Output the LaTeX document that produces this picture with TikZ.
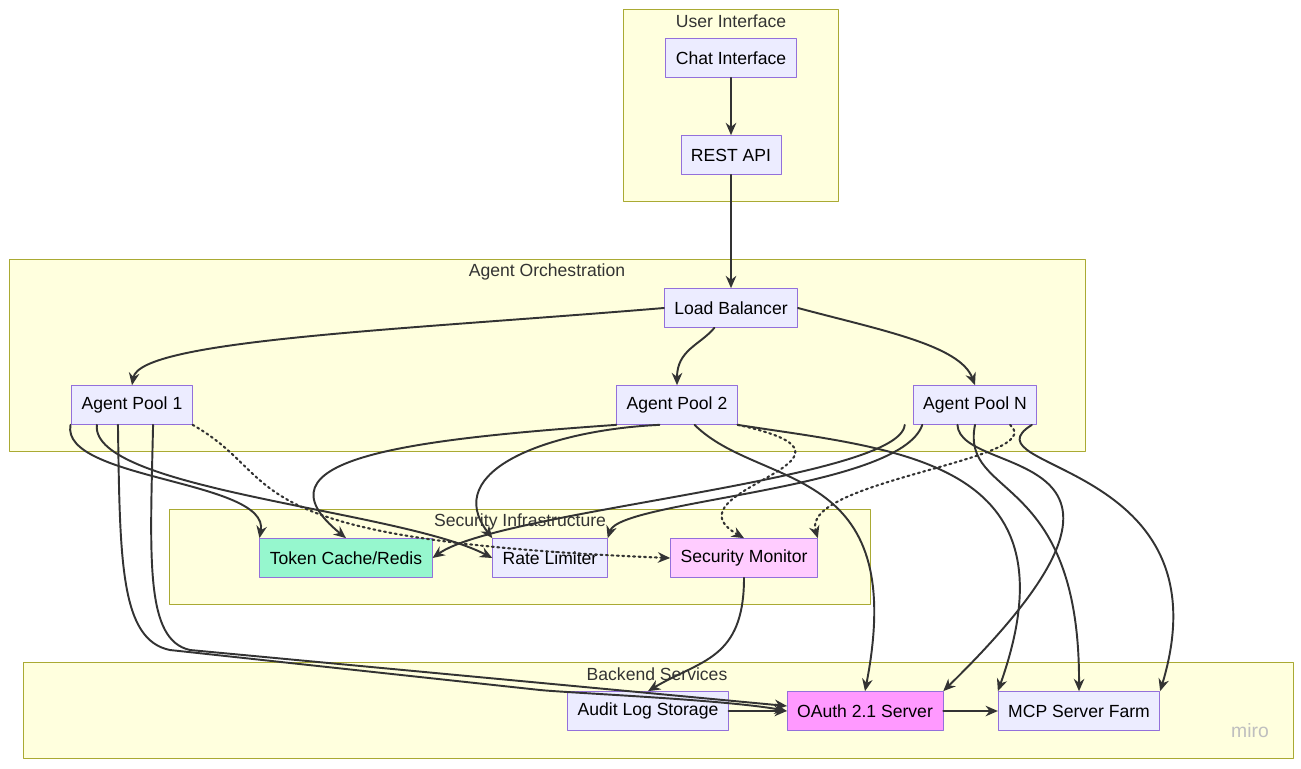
\documentclass[tikz,border=0pt]{standalone}
\usepackage{fontspec}
\setmainfont{Liberation Sans}
\usetikzlibrary{arrows.meta}
\definecolor{boxfill}{HTML}{ECECFF}
\definecolor{boxline}{HTML}{9370DB}
\definecolor{grpfill}{HTML}{FFFFDE}
\definecolor{grpline}{HTML}{AAAA33}
\definecolor{redisfill}{HTML}{96F7CE}
\definecolor{monfill}{HTML}{FFCCFF}
\definecolor{oauthfill}{HTML}{FF99FF}
\tikzset{
  box/.style={draw=boxline,fill=boxfill,minimum height=0.78cm,inner xsep=0.2cm,font=\fontsize{10}{12}\selectfont},
  grp/.style={draw=grpline,fill=grpfill},
  grplabel/.style={font=\fontsize{10}{12}\selectfont,text=black!80},
  link/.style={-{Stealth[length=7pt,width=6pt]},line width=1.1pt,draw=black!80},
  dlink/.style={link,dotted,line width=1.2pt}
}
\begin{document}
\begin{tikzpicture}[x=0.02cm,y=-0.02cm,line cap=round,line join=round]
\useasboundingbox (0,0) rectangle (1301,768);
% clusters
\draw[grp] (623,9) rectangle (838,201);
\node[grplabel] at (731,21) {User Interface};
\draw[grp] (9,259) rectangle (1085,451);
\node[grplabel] at (547,272) {Agent Orchestration};
\draw[grp] (169,509) rectangle (870,604);
\draw[grp] (23,662) rectangle (1293,758);
% nodes
\node[box] (chat) at (731,58) {Chat Interface};
\node[box] (rest) at (731,155) {REST API};
\node[box] (lb) at (731,308) {Load Balancer};
\node[box] (ap1) at (132,405) {Agent Pool 1};
\node[box] (ap2) at (677,405) {Agent Pool 2};
\node[box] (apn) at (975,405) {Agent Pool N};
\node[box,fill=redisfill] (redis) at (346,558) {Token Cache/Redis};
\node[box] (rate) at (550,558) {Rate Limiter};
\node[box,fill=monfill] (mon) at (744,558) {Security Monitor};
\node[box] (audit) at (648,711) {Audit Log Storage};
\node[box,fill=oauthfill] (oauth) at (865,711) {OAuth 2.1 Server};
\node[box] (mcp) at (1079,711) {MCP Server Farm};
% edges
\draw[link] (chat) -- (rest);
\draw[link] (rest) -- (lb);
\draw[link] (lb.west) .. controls (400,330) and (140,340) .. (ap1.north);
\draw[link] (lb) .. controls (700,345) and (677,350) .. (ap2.north);
\draw[link] (lb.east) .. controls (880,330) and (960,345) .. (apn.north);
% pool 1
\draw[link] ([xshift=-35pt]ap1.south) .. controls (60,480) and (270,480) .. (redis.north west);
\draw[link] ([xshift=-20pt]ap1.south) .. controls (90,490) and (400,510) .. (rate.west);
\draw[link] ([xshift=-8pt]ap1.south) .. controls (120,560) and (120,640) .. (170,650)
  -- (540,690) .. controls (570,693) and (730,700) .. (oauth.west);
\draw[link] ([xshift=12pt]ap1.south) .. controls (150,560) and (145,640) .. (190,650)
  -- (787,706);
\draw[dlink] (ap1.south east) .. controls (290,480) and (220,540) .. (mon.west);
% pool 2
\draw[link] (ap2.south west) .. controls (400,440) and (250,460) .. (redis.north);
\draw[link] ([xshift=-10pt]ap2.south) .. controls (550,430) and (440,470) .. (rate.north west);
\draw[link] ([xshift=10pt]ap2.south) .. controls (760,490) and (910,460) .. (oauth.north);
\draw[link] (ap2.south east) .. controls (900,450) and (1080,460) .. (mcp.north west);
\draw[dlink] (ap2.south east) .. controls (900,460) and (660,490) .. (mon.north);
% pool N
\draw[link] ([xshift=-40pt]apn.south) .. controls (900,480) and (500,510) .. (redis.east);
\draw[link] ([xshift=-30pt]apn.south) .. controls (900,490) and (620,500) .. (rate.north east);
\draw[link] ([xshift=-10pt]apn.south) .. controls (960,480) and (1200,440) .. (oauth.north east);
\draw[link] (apn.south) .. controls (960,500) and (1080,470) .. (mcp.north);
\draw[link] ([xshift=-3pt]apn.south east) .. controls (960,470) and (1230,460) .. (mcp.north east);
\draw[dlink] ([xshift=20pt]apn.south) .. controls (1050,460) and (800,480) .. (mon.north east);
% backend
\draw[link] (mon) .. controls (744,660) and (700,660) .. (audit.north);
\draw[link] (audit) -- (oauth);
\draw[link] (oauth) -- (mcp);
\node[grplabel] at (520,522) {Security Infrastructure};
\node[grplabel] at (657,674) {Backend Services};
\node[text=black!25,font=\fontsize{11}{12}\selectfont] at (1250,731) {miro};
\end{tikzpicture}
\end{document}
